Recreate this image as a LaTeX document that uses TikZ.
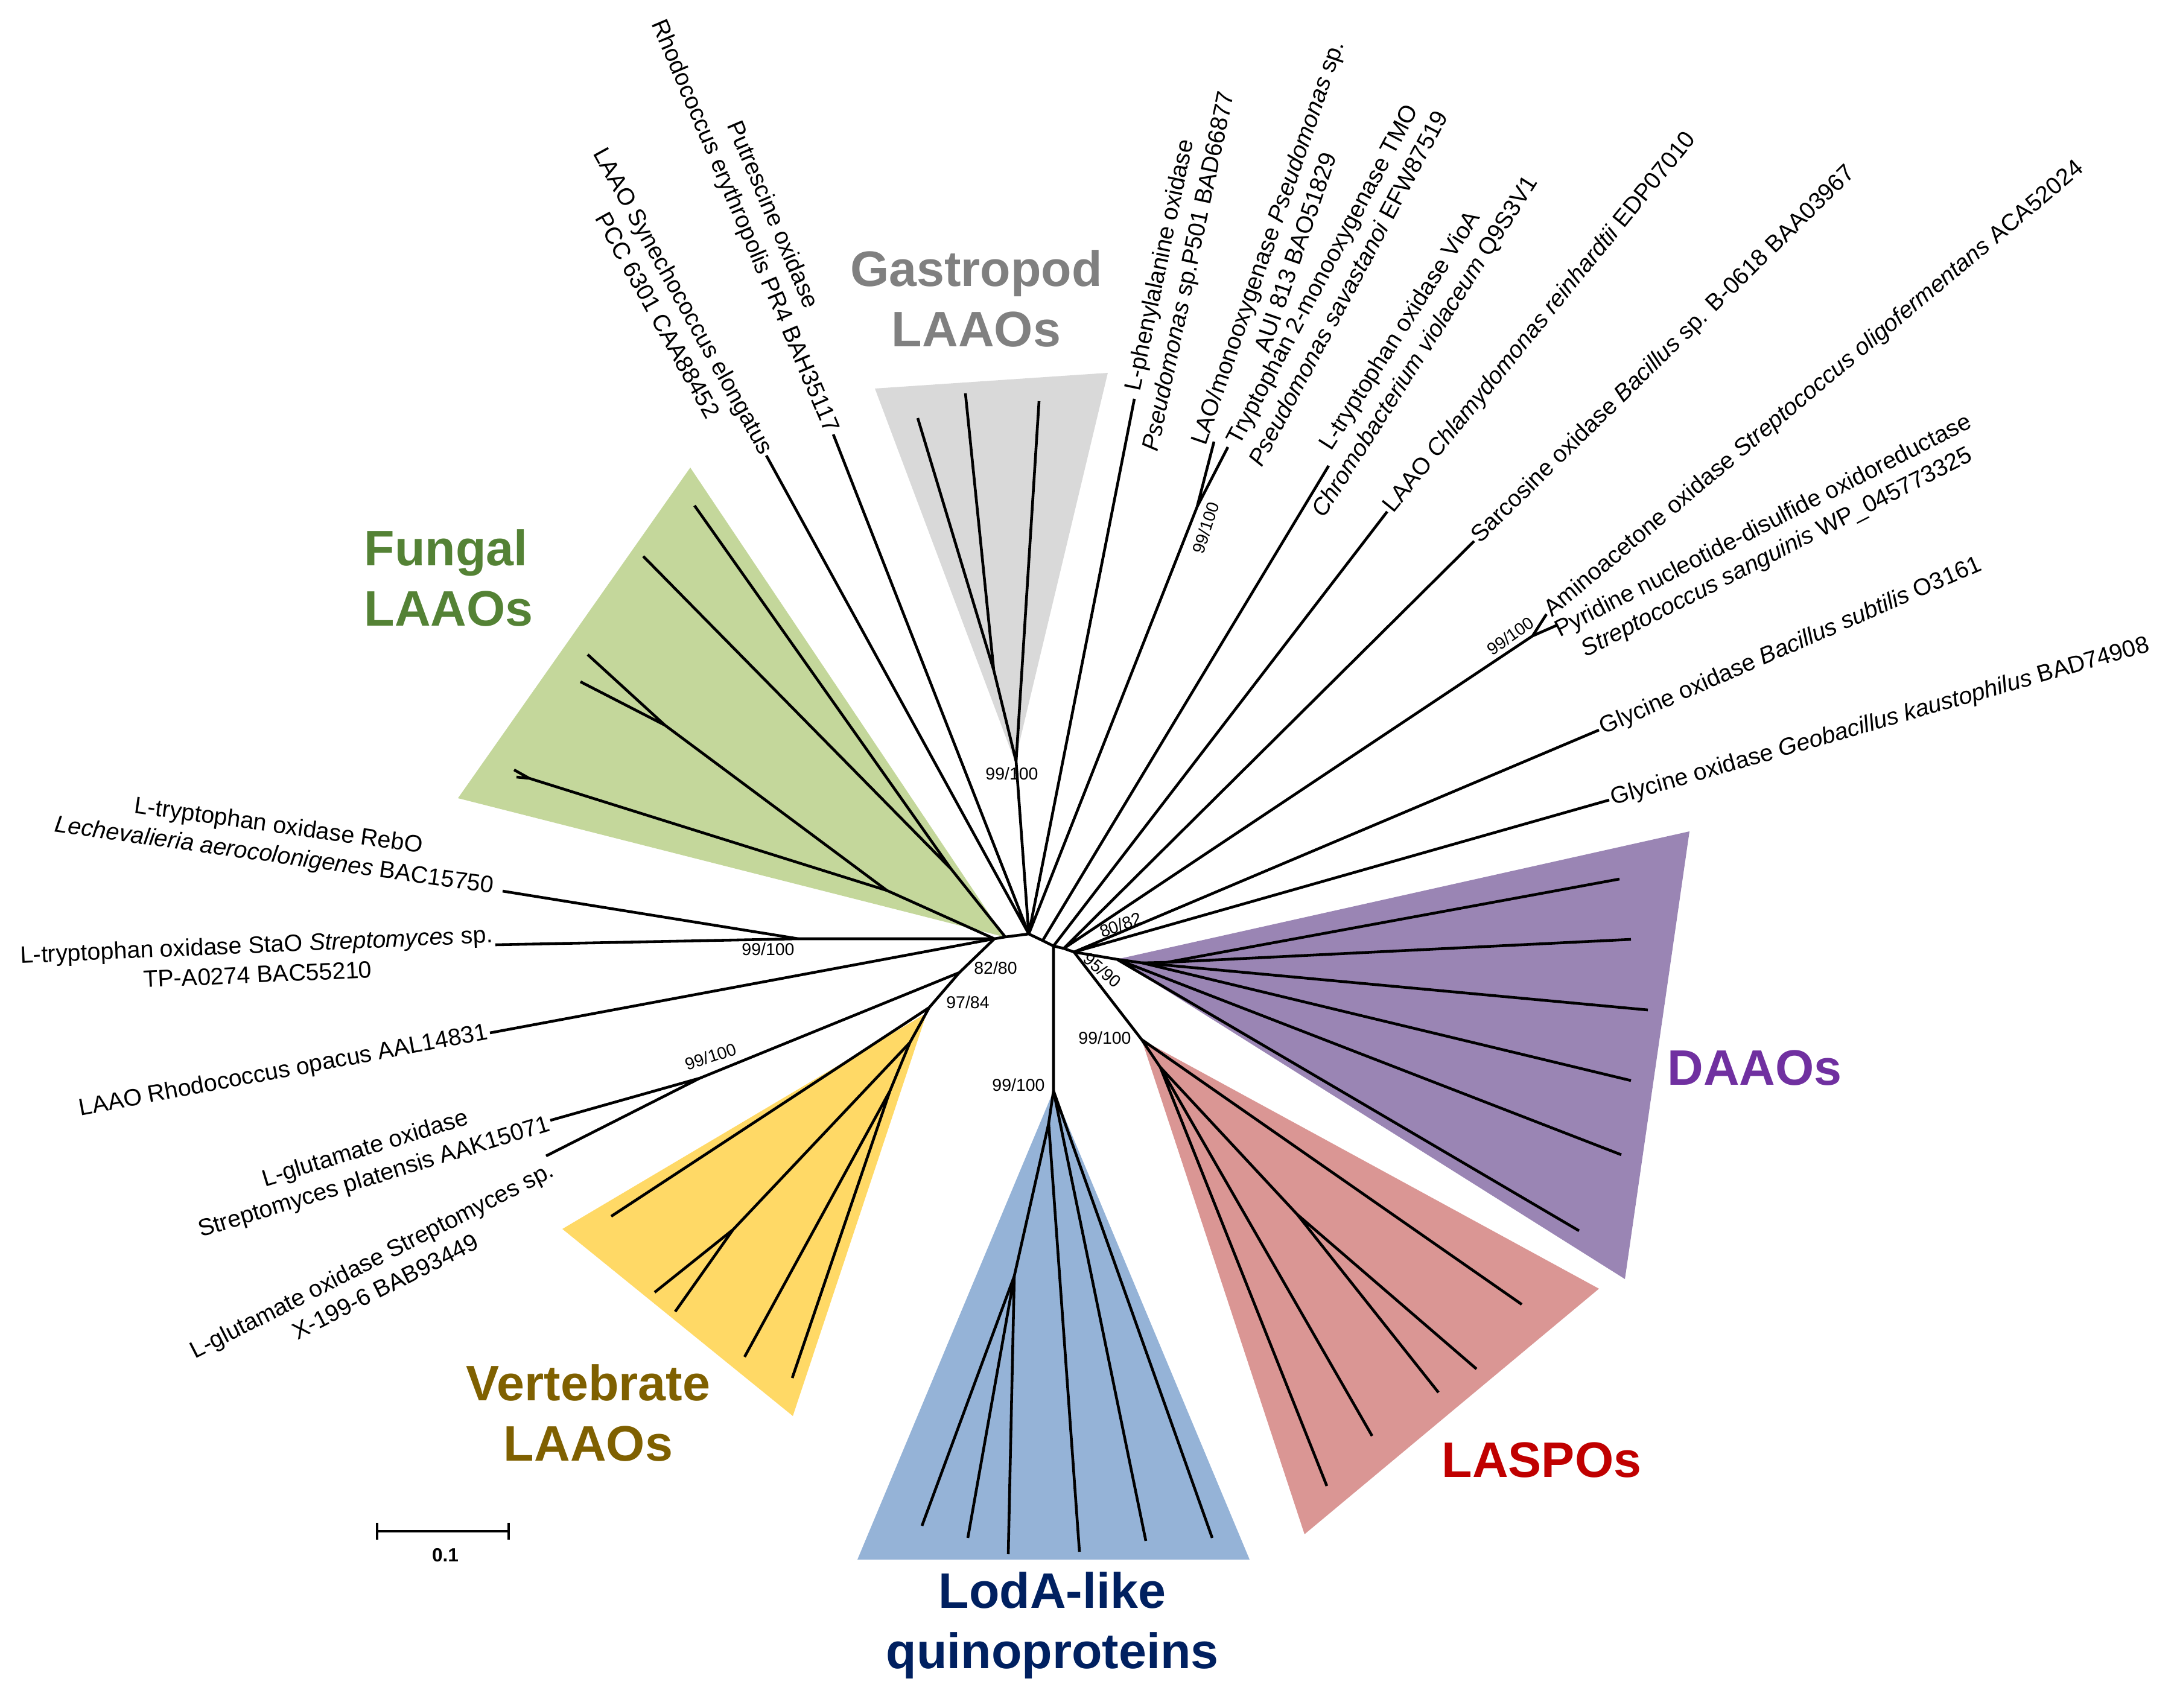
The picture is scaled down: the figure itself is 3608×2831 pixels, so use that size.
\documentclass[tikz,border=0pt]{standalone}
\usepackage{fontspec}
\setmainfont{Liberation Sans}
\usepackage{tikz}
\usepackage{xcolor}
\definecolor{gastrofill}{RGB}{217,217,217}
\definecolor{gastrotext}{RGB}{128,128,128}
\definecolor{fungalfill}{RGB}{196,215,155}
\definecolor{fungaltext}{RGB}{84,130,53}
\definecolor{vertfill}{RGB}{255,217,102}
\definecolor{verttext}{RGB}{127,96,0}
\definecolor{lodafill}{RGB}{149,179,215}
\definecolor{lodatext}{RGB}{0,32,96}
\definecolor{laspofill}{RGB}{218,150,148}
\definecolor{laspotext}{RGB}{192,0,0}
\definecolor{daaofill}{RGB}{154,133,180}
\definecolor{daaotext}{RGB}{112,48,160}

\newcommand{\leaffont}{\fontsize{11.2}{14}\selectfont}
\newcommand{\bootfont}{\fontsize{8.1}{9.5}\selectfont}
\newcommand{\groupfont}{\fontsize{23.5}{28.5}\selectfont\bfseries}

\begin{document}
\begin{tikzpicture}[
    x=0.01cm, y=-0.01cm,
    branch/.style={line width=1.3pt, line join=round},
    leaf/.style={font=\leaffont, align=center, inner sep=1pt},
    boot/.style={font=\bootfont, inner sep=0pt},
    group/.style={font=\groupfont, align=center, inner sep=0pt}
]
\useasboundingbox (0,0) rectangle (3608,2831);

% clade triangles
\fill [gastrofill] (1450,644) -- (1836,618) -- (1682,1262) -- cycle;
\fill [fungalfill] (1144,775) -- (759,1323) -- (1665,1553) -- cycle;
\fill [vertfill] (932,2037) -- (1314,2347) -- (1536,1679) -- cycle;
\fill [lodafill] (1421,2585) -- (2071,2585) -- (1746,1808) -- cycle;
\fill [laspofill] (1892,1723) -- (2650,2136) -- (2162,2543) -- cycle;
\fill [daaofill] (1851,1590) -- (2800,1378) -- (2693,2120) -- cycle;

% inner nodes of the tree
\coordinate (A) at (1648,1556);
\coordinate (F0) at (1666,1553);
\coordinate (B) at (1705,1548);
\coordinate (C1) at (1728,1559);
\coordinate (C) at (1746,1568);
\coordinate (Dp) at (1763,1572);
\coordinate (D) at (1780,1578);
\coordinate (R) at (1323,1556);
\coordinate (N1) at (1590,1612);
\coordinate (N2) at (1540,1670);
\coordinate (Jglu) at (1160,1787);
\coordinate (Jlao) at (1984,840);
\coordinate (Jami) at (2540,1054);

% leaf tips
\coordinate (tSyn) at (1270,755);
\coordinate (tPut) at (1381,720);
\coordinate (tPhe) at (1880,661);
\coordinate (tLao) at (2012,732);
\coordinate (tTrp) at (2035,741);
\coordinate (tVio) at (2202,772);
\coordinate (tChl) at (2299,848);
\coordinate (tSar) at (2443,897);
\coordinate (tAmi) at (2563,1018);
\coordinate (tPyr) at (2581,1036);
\coordinate (tGlyB) at (2650,1210);
\coordinate (tGlyG) at (2667,1326);
\coordinate (tReb) at (833,1477);
\coordinate (tSta) at (821,1566);
\coordinate (tRop) at (812,1712);
\coordinate (tGluP) at (912,1857);
\coordinate (tGluX) at (905,1916);

% backbone and single leaves
\draw [branch] (R) -- (A) -- (F0) -- (B) -- (C1) -- (C) -- (Dp) -- (D);
\draw [branch] (B) -- (tSyn) (B) -- (tPut) (B) -- (tPhe) (B) -- (Jlao);
\draw [branch] (Jlao) -- (tLao) (Jlao) -- (tTrp);
\draw [branch] (C1) -- (tVio) (C) -- (tChl) (Dp) -- (tSar) (Dp) -- (Jami);
\draw [branch] (Jami) -- (tAmi) (Jami) -- (tPyr);
\draw [branch] (D) -- (tGlyB) (D) -- (tGlyG);
\draw [branch] (R) -- (tReb) (R) -- (tSta) (A) -- (tRop);
\draw [branch] (A) -- (N1) -- (N2) (N1) -- (Jglu) -- (tGluP) (Jglu) -- (tGluX);

% gastropod clade
\coordinate (G1) at (1684,1262);
\coordinate (G2) at (1647,1111);
\coordinate (gas1) at (1521,693);
\coordinate (gas2) at (1600,652);
\coordinate (gas3) at (1722,665);
\draw [branch] (B) -- (G1) -- (G2) -- (gas1) (G2) -- (gas2) (G1) -- (gas3);

% fungal clade
\coordinate (Fa) at (1576,1440);
\coordinate (Fb) at (1470,1476);
\coordinate (F34) at (1102,1202);
\coordinate (F5) at (877,1290);
\coordinate (fun1) at (1151,838);
\coordinate (fun2) at (1066,922);
\coordinate (fun3) at (974,1085);
\coordinate (fun4) at (962,1130);
\coordinate (fun5) at (852,1276);
\coordinate (fun6) at (856,1288);
\draw [branch] (F0) -- (Fa) -- (fun1) (Fa) -- (fun2);
\draw [branch] (A) -- (Fb) -- (F34) -- (fun3) (F34) -- (fun4);
\draw [branch] (Fb) -- (F5) -- (fun5) (F5) -- (fun6);

% vertebrate clade
\coordinate (Y1) at (1508,1728);
\coordinate (Y2) at (1215,2038);
\coordinate (Y3) at (1475,1808);
\coordinate (ver1) at (1013,2016);
\coordinate (ver2) at (1085,2142);
\coordinate (ver3) at (1119,2174);
\coordinate (ver4) at (1234,2249);
\coordinate (ver5) at (1313,2284);
\draw [branch] (N2) -- (ver1) (N2) -- (Y1) -- (Y2) -- (ver2) (Y2) -- (ver3);
\draw [branch] (Y1) -- (Y3) -- (ver4) (Y3) -- (ver5);

% LodA-like clade
\coordinate (L0) at (1746,1808);
\coordinate (L1) at (1738,1862);
\coordinate (L2) at (1681,2115);
\coordinate (lod1) at (1528,2529);
\coordinate (lod2) at (1604,2549);
\coordinate (lod3) at (1671,2576);
\coordinate (lod4) at (1789,2572);
\coordinate (lod5) at (1899,2554);
\coordinate (lod6) at (2009,2549);
\draw [branch] (C) -- (L0) -- (L1) -- (L2) -- (lod1) (L2) -- (lod2) (L2) -- (lod3);
\draw [branch] (L1) -- (lod4) (L0) -- (lod5) (L0) -- (lod6);

% DAAO clade
\coordinate (D2) at (1851,1590);
\coordinate (D3) at (1893,1596);
\coordinate (D4) at (1934,1595);
\coordinate (daa1) at (2684,1457);
\coordinate (daa2) at (2703,1557);
\coordinate (daa3) at (2731,1674);
\coordinate (daa4) at (2703,1791);
\coordinate (daa5) at (2687,1914);
\coordinate (daa6) at (2617,2040);
\draw [branch] (D) -- (D2) -- (daa6) (D2) -- (daa5) (D2) -- (D3) -- (daa4) (D3) -- (daa3);
\draw [branch] (D3) -- (D4) -- (daa1) (D4) -- (daa2);

% LASPO clade
\coordinate (S0) at (1892,1723);
\coordinate (S1) at (1923,1769);
\coordinate (S2) at (2150,2013);
\coordinate (las1) at (2522,2162);
\coordinate (las2) at (2447,2269);
\coordinate (las3) at (2384,2308);
\coordinate (las4) at (2274,2380);
\coordinate (las5) at (2199,2463);
\draw [branch] (D) -- (S0) -- (las1) (S0) -- (S1) -- (S2) -- (las2) (S2) -- (las3);
\draw [branch] (S1) -- (las4) (S1) -- (las5);

% leaf labels
\node (lSyn) [leaf, rotate=-61] at (1112,510) {LAAO Synechococcus elongatus\\PCC 6301 CAA88452};
\node (lPut) [leaf, rotate=-67] at (1256,366) {Putrescine oxidase\\Rhodococcus erythropolis PR4 BAH35117};
\node (lPhe) [leaf, rotate=78] at (1948,445) {L-phenylalanine oxidase\\\textit{Pseudomonas} sp.P501 BAD66877};
\node (lLao) [leaf, rotate=71] at (2123,410) {LAO/monooxygenase \textit{Pseudomonas} sp.\\AUI 813 BAO51829};
\node (lTrp) [leaf, rotate=62] at (2212,466) {Tryptophan 2-monooxygenase TMO\\\textit{Pseudomonas savastanoi} EFW87519};
\node (lVio) [leaf, rotate=57.5] at (2342,562) {L-tryptophan oxidase VioA\\\textit{Chromobacterium violaceum} Q9S3V1};
\node (lChl) [leaf, rotate=51, anchor=west] at (tChl) {LAAO \textit{Chlamydomonas reinhardtii} EDP07010};
\node (lSar) [leaf, rotate=44.5, anchor=west] at (tSar) {Sarcosine oxidase \textit{Bacillus} sp. B-0618 BAA03967};
\node (lAmi) [leaf, rotate=40, anchor=west] at (tAmi) {Aminoacetone oxidase \textit{Streptococcus oligofermentans} ACA52024};
\node (lPyr) [leaf, rotate=27] at (2934,895) {Pyridine nucleotide-disulfide oxidoreductase\\\textit{Streptococcus sanguinis} WP\_045773325};
\node (lGlyB) [leaf, rotate=23.5, anchor=west] at (tGlyB) {Glycine oxidase \textit{Bacillus subtilis} O3161};
\node (lGlyG) [leaf, rotate=16, anchor=west] at (tGlyG) {Glycine oxidase \textit{Geobacillus kaustophilus} BAD74908};
\node (lReb) [leaf, rotate=-8] at (458,1395) {L-tryptophan oxidase RebO\\\textit{Lechevalieria aerocolonigenes} BAC15750};
\node (lSta) [leaf, rotate=2.5] at (426,1590) {L-tryptophan oxidase StaO \textit{Streptomyces} sp.\\TP-A0274 BAC55210};
\node (lRop) [leaf, rotate=10.6, anchor=east] at (tRop) {LAAO Rhodococcus opacus AAL14831};
\node (lGluP) [leaf, rotate=17] at (613,1929) {L-glutamate oxidase\\Streptomyces platensis AAK15071};
\node (lGluX) [leaf, rotate=27] at (627,2110) {L-glutamate oxidase Streptomyces sp.\\X-199-6 BAB93449};

% bootstrap values
\node (bGas) [boot] at (1677,1282) {99/100};
\node (bLao) [boot, rotate=72] at (1998,875) {99/100};
\node (bAmi) [boot, rotate=35] at (2503,1054) {99/100};
\node (bReb) [boot] at (1273,1573) {99/100};
\node (bGlu) [boot, rotate=18] at (1178,1751) {99/100};
\node (bN1) [boot] at (1650,1604) {82/80};
\node (bN2) [boot] at (1604,1661) {97/84};
\node (bGly) [boot, rotate=20] at (1857,1533) {80/82};
\node (bD) [boot, rotate=-40] at (1827,1608) {95/90};
\node (bLas) [boot] at (1831,1720) {99/100};
\node (bLod) [boot] at (1688,1798) {99/100};

% group names
\node (gGas) [group, text=gastrotext] at (1618,495) {Gastropod\\LAAOs};
\node (gFun) [group, text=fungaltext, align=left, anchor=west] at (603,958) {Fungal\\LAAOs};
\node (gVer) [group, text=verttext] at (975,2342) {Vertebrate\\LAAOs};
\node (gLod) [group, text=lodatext] at (1744,2694) {LodA-like\\quinoproteins};
\node (gLas) [group, text=laspotext] at (2555,2420) {LASPOs};
\node (gDaa) [group, text=daaotext] at (2908,1770) {DAAOs};

% scale bar
\coordinate (sbL) at (625,2538);
\coordinate (sbR) at (843,2538);
\draw [branch] (sbL) -- (sbR) (625,2524) -- (625,2552) (843,2524) -- (843,2552);
\node (sbText) [font=\fontsize{9}{10}\selectfont\bfseries, inner sep=0pt] at (738,2578) {0.1};
\end{tikzpicture}
\end{document}
